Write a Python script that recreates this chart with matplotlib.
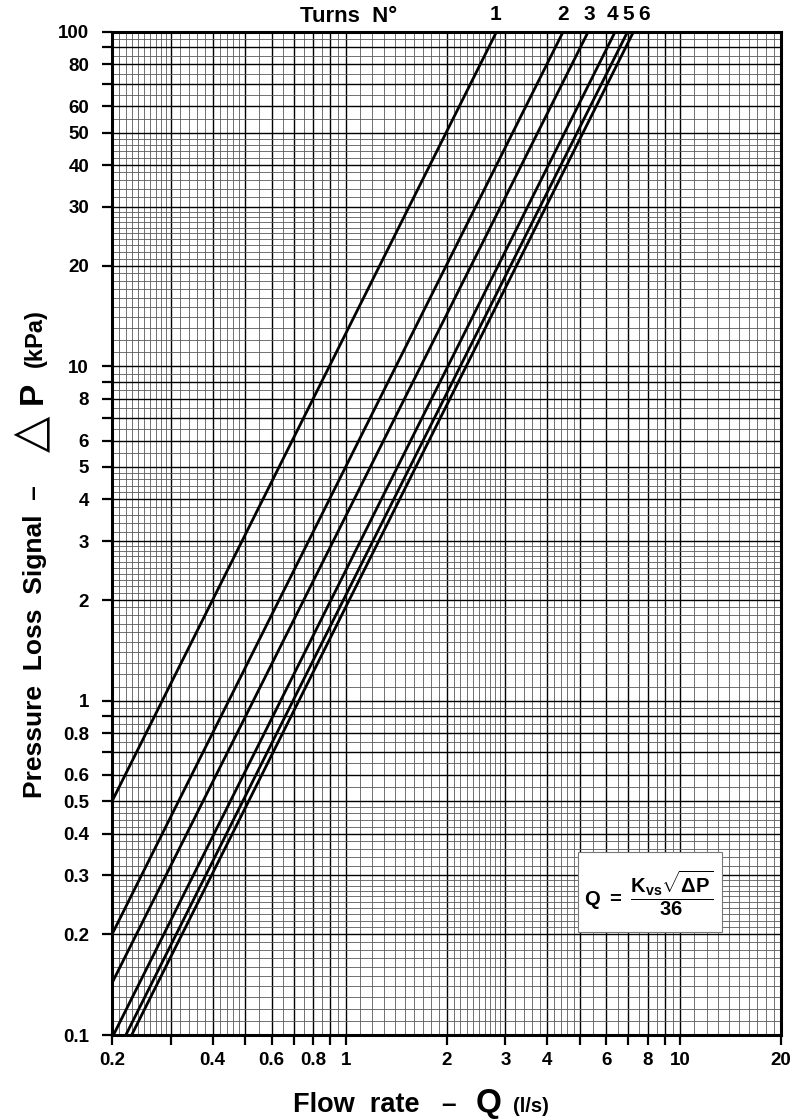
import matplotlib
matplotlib.use('Agg')
import matplotlib.pyplot as plt
import matplotlib.transforms as mtransforms
from matplotlib.patches import Rectangle
from matplotlib.ticker import FixedLocator, FixedFormatter, NullFormatter
import numpy as np

plt.rcParams['font.family'] = ['Liberation Sans', 'DejaVu Sans']
plt.rcParams['font.weight'] = 'bold'
plt.rcParams['mathtext.fontset'] = 'custom'
plt.rcParams['mathtext.rm'] = 'Liberation Sans:bold'
plt.rcParams['mathtext.it'] = 'Liberation Sans:bold'
plt.rcParams['mathtext.bf'] = 'Liberation Sans:bold'

# curves: start / end point of each turn line
turns = ['1', '2', '3', '4', '5', '6']
q_start = [0.2, 0.2, 0.2, 0.202, 0.22, 0.229]
dp_start = [0.5, 0.2, 0.143, 0.1, 0.1, 0.1]
q_end = [2.82, 4.46, 5.3, 6.38, 6.95, 7.24]
dp_end = [100, 100, 100, 100, 100, 100]
turn_label_q = [2.8, 4.46, 5.33, 6.25, 6.98, 7.79]

x_ticks = [0.2, 0.3, 0.4, 0.5, 0.6, 0.7, 0.8, 0.9, 1, 2, 3, 4, 5, 6, 7, 8, 9, 10, 20]
x_labels = ['0.2', '', '0.4', '', '0.6', '', '0.8', '', '1', '2', '3', '4', '', '6', '', '8', '', '10', '20']
y_ticks = [0.1, 0.2, 0.3, 0.4, 0.5, 0.6, 0.7, 0.8, 0.9, 1, 2, 3, 4, 5, 6, 7, 8, 9,
           10, 20, 30, 40, 50, 60, 70, 80, 90, 100]
y_labels = ['0.1', '0.2', '0.3', '0.4', '0.5', '0.6', '', '0.8', '', '1', '2', '3', '4', '5', '6', '', '8', '',
            '10', '20', '30', '40', '50', '60', '', '80', '', '100']


def fine_grid(decades):
    # log paper rulings: 1-3 by 0.1, 3-5 by 0.2, 5-10 by 0.5
    base = np.concatenate([np.arange(1, 3, 0.1), np.arange(3, 5, 0.2), np.arange(5, 10, 0.5)])
    out = []
    for d in decades:
        for b in base:
            v = round(b * 10.0 ** d, 6)
            if abs(b - round(b)) > 1e-6:
                out.append(v)
    return out


W, H = 799, 1120
fig = plt.figure(figsize=(W / 100, H / 100), dpi=100)
ax = fig.add_axes([112 / W, 1 - 1035 / H, (781 - 112) / W, (1035 - 32) / H])

ax.set_xscale('log')
ax.set_yscale('log')
ax.set_xlim(0.2, 20)
ax.set_ylim(0.1, 100)

ax.xaxis.set_major_locator(FixedLocator(x_ticks))
ax.xaxis.set_major_formatter(FixedFormatter(x_labels))
ax.yaxis.set_major_locator(FixedLocator(y_ticks))
ax.yaxis.set_major_formatter(FixedFormatter(y_labels))
ax.xaxis.set_minor_locator(FixedLocator([v for v in fine_grid([-1, 0, 1]) if 0.2 < v < 20]))
ax.yaxis.set_minor_locator(FixedLocator(fine_grid([-1, 0, 1])))
ax.xaxis.set_minor_formatter(NullFormatter())
ax.yaxis.set_minor_formatter(NullFormatter())

ax.grid(which='major', color='black', lw=1.0)
ax.grid(which='minor', color='#5a5a5a', lw=0.6)
ax.set_axisbelow(True)

ax.tick_params(which='major', direction='out', length=7.5, width=1.6, labelsize=13.5)
ax.tick_params(axis='x', which='major', pad=5)
ax.tick_params(axis='y', which='major', pad=9)
ax.tick_params(which='minor', length=0)
for s in ax.spines.values():
    s.set_linewidth(2.2)

for i in range(len(turns)):
    ax.plot([q_start[i], q_end[i]], [dp_start[i], dp_end[i]], color='black', lw=2.0,
            solid_capstyle='butt', zorder=3)

# turn numbers above the frame
trans = mtransforms.blended_transform_factory(ax.transData, fig.transFigure)
for i, t in enumerate(turns):
    ax.text(turn_label_q[i], 1 - 20 / H, t, transform=trans, ha='center', va='baseline',
            fontsize=15, clip_on=False)
fig.text(300 / W, 1 - 22 / H, 'Turns  N°', ha='left', va='baseline', fontsize=16)

# x axis title
fig.text(293 / W, 1 - 1112 / H, 'Flow  rate', ha='left', va='baseline', fontsize=19.5)
fig.text(449 / W, 1 - 1112 / H, '–', ha='center', va='baseline', fontsize=19)
fig.text(489 / W, 1 - 1112 / H, 'Q', ha='center', va='baseline', fontsize=24)
fig.text(513 / W, 1 - 1112 / H, '(l/s)', ha='left', va='baseline', fontsize=14.5)

# y axis title
yl = dict(rotation=90, rotation_mode='anchor', va='baseline')
fig.text(42 / W, 1 - 485 / H, 'Pressure  Loss  Signal  –', ha='right', fontsize=19, **yl)
fig.text(44 / W, 1 - 434 / H, '△', ha='center', fontsize=34, fontweight='normal', **yl)
fig.text(42 / W, 1 - 393 / H, 'P', ha='center', fontsize=24, **yl)
fig.text(42 / W, 1 - 338 / H, '(kPa)', ha='center', fontsize=17, **yl)

# formula box
fig.add_artist(Rectangle((578 / W, 1 - 932 / H), 144 / W, 80 / H, transform=fig.transFigure,
                         facecolor='white', edgecolor='#777777', lw=0.8, zorder=5))
fig.text(649 / W, 1 - 893 / H, r'$\mathrm{Q}\ =\ \dfrac{\mathrm{K_{vs}}\sqrt{\Delta \mathrm{P}}}{36}$',
         ha='center', va='center', fontsize=14.5, zorder=6)

fig.savefig('out.png', dpi=100)
